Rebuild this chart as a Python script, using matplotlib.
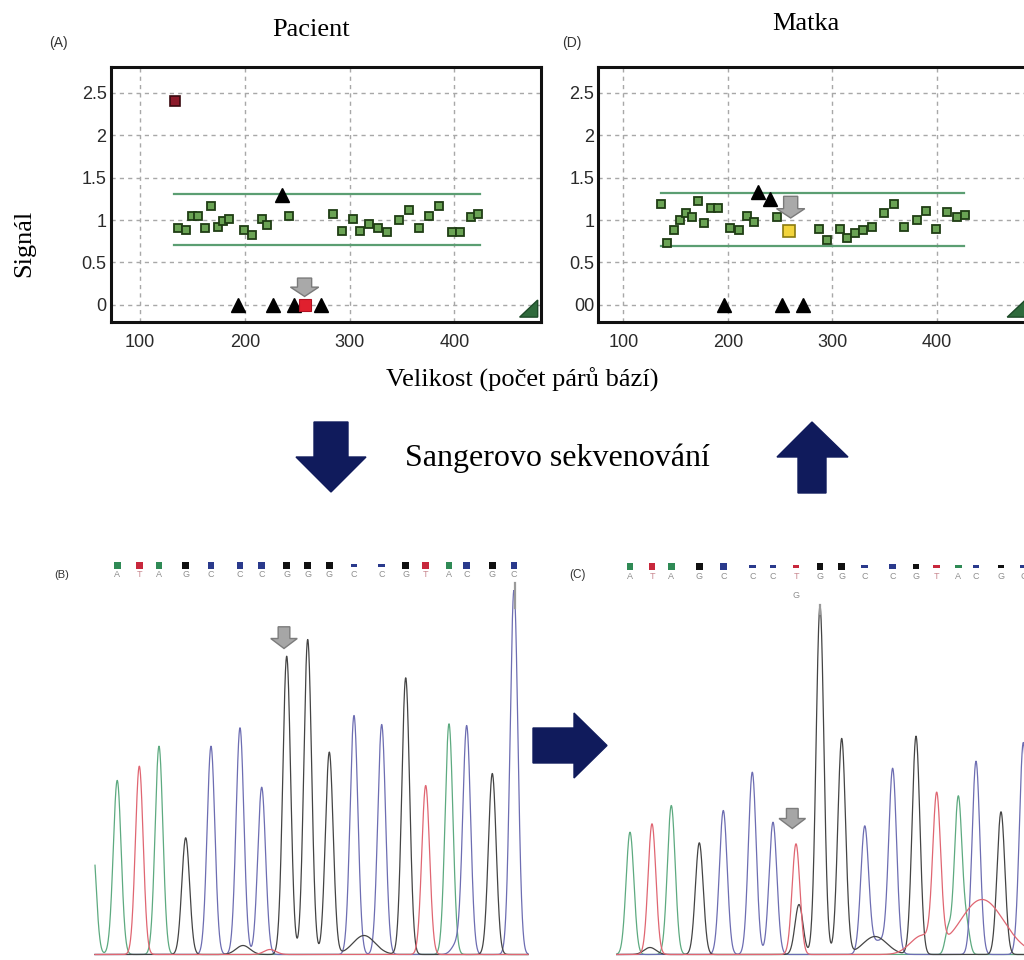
import numpy as np
import matplotlib
matplotlib.use("Agg")
import matplotlib.pyplot as plt
from matplotlib.patches import Polygon, FancyArrow, Rectangle
from matplotlib.transforms import blended_transform_factory

plt.rcParams["font.family"] = ["Liberation Sans", "DejaVu Sans"]
SERIF = ["Liberation Serif", "DejaVu Serif"]

W, H = 1024, 960

# ---------------- Panel A (Pacient) : fragment size vs signal ----------------
a_size = [136.6, 143.9, 149.3, 155.7, 162.0, 167.4, 174.1, 179.5, 185.2, 199.2,
          207.2, 216.1, 221.5, 242.5, 283.9, 292.4, 303.5, 309.9, 318.8, 326.8,
          335.4, 347.1, 357.0, 366.2, 376.1, 385.6, 397.4, 405.3, 415.5, 422.8]
a_signal = [0.905, 0.885, 1.043, 1.043, 0.905, 1.169, 0.913, 0.992, 1.015, 0.885,
            0.826, 1.012, 0.937, 1.043, 1.074, 0.866, 1.012, 0.874, 0.952, 0.905,
            0.854, 1.003, 1.114, 0.905, 1.043, 1.169, 0.854, 0.854, 1.035, 1.074]
a_outlier_size, a_outlier_signal = [133], [2.40]
a_deleted_size, a_deleted_signal = [257], [0.0]
a_tri_size = [193.2, 226.6, 247.0, 272.4, 235.0]
a_tri_signal = [0.0, 0.0, 0.0, 0.0, 1.30]
a_limits = [0.70, 1.31]
a_limit_span = [132, 424]
a_arrow = [257, 0.315, 0.098]

# ---------------- Panel D (Matka) ----------------
d_size = [136.1, 142.1, 148.5, 154.3, 159.7, 165.4, 171.8, 177.5, 183.6, 190.9,
          202.1, 211.0, 218.7, 225.4, 246.8, 287.3, 294.6, 307.4, 314.4, 321.7,
          329.1, 337.7, 349.8, 359.4, 368.9, 380.8, 389.7, 399.3, 409.5, 419.0, 427.0]
d_signal = [1.19, 0.73, 0.885, 1.00, 1.08, 1.04, 1.23, 0.97, 1.14, 1.14,
            0.905, 0.885, 1.05, 0.975, 1.035, 0.897, 0.76, 0.897, 0.787, 0.846,
            0.885, 0.913, 1.08, 1.19, 0.913, 1.00, 1.11, 0.897, 1.09, 1.04, 1.06]
d_yellow_size, d_yellow_signal = [258.9], [0.874]
d_tri_size = [196.4, 251.6, 271.7, 229.2, 240.4]
d_tri_signal = [0.0, 0.0, 0.0, 1.33, 1.25]
d_limits = [0.69, 1.32]
d_limit_span = [136, 426]
d_arrow = [260.2, 1.28, 1.024]

x_ticks = [100, 200, 300, 400]
y_ticks = [0, 0.5, 1, 1.5, 2, 2.5]
a_ylabels = ["0", "0.5", "1", "1.5", "2", "2.5"]
d_ylabels = ["00", "0.5", "1", "1.5", "2", "2.5"]

# ---------------- Chromatograms ----------------
base_color = {"A": "#2f8a55", "T": "#c8283c", "G": "#111111", "C": "#2a3a8c"}
trace_color = {"A": "#5daa80", "T": "#e06672", "G": "#444444", "C": "#6d6db2"}

b_bases = list("ATAGCCCGGGCCGTACGC")
b_peak_pos = [37.3, 59.3, 79.0, 105.7, 131.0, 160.0, 181.7, 206.7, 227.7, 249.3,
              274.0, 301.7, 325.7, 345.7, 369.0, 386.7, 412.3, 434.0]
b_peak_height = [170.7, 188.3, 208.3, 116.7, 208.3, 226.7, 167.3, 298.3, 315.0, 202.3,
                 239.0, 230.0, 276.7, 169.0, 230.7, 227.3, 181.0, 365.0]
b_quality = [1, 1, 1, 1, 1, 1, 1, 1, 1, 1, 0.5, 0.5, 1, 1, 1, 1, 1, 1]
# extra (off-call) signal: base, position, height, width
b_extra_base = ["A", "G", "C", "G", "A", "T"]
b_extra_pos = [12.0, 284.0, 377.0, 163.0, 33.0, 190.0]
b_extra_height = [120.0, 19.0, 11.0, 9.0, 6.0, 5.0]
b_extra_width = [3.9, 11.0, 5.0, 7.0, 4.0, 6.0]

c_bases = list("ATAGCCCTGGCCGTACGC")
c_second = {7: "G"}
c_peak_pos = [40.0, 62.0, 81.3, 109.3, 133.3, 162.3, 183.0, 206.0, 230.0, 251.7,
              274.7, 302.7, 326.0, 346.7, 368.3, 386.0, 411.0, 433.3]
c_peak_height = [122.3, 130.7, 149.0, 111.7, 144.0, 182.3, 132.3, 110.7, 348.3, 215.7,
                 124.3, 180.0, 218.3, 147.3, 158.3, 193.3, 142.7, 212.0]
c_quality = [1, 1, 1, 1, 1, 0.5, 0.5, 0.5, 1, 1, 0.4, 0.6, 0.6, 0.5, 0.4, 0.3, 0.3, 0.3]
c_extra_base = ["G", "T", "G", "C", "T", "A", "A", "G"]
c_extra_pos = [209.0, 392.0, 285.0, 290.0, 332.0, 358.0, 377.0, 60.0]
c_extra_height = [50.0, 55.0, 18.0, 14.0, 18.0, 24.0, 24.0, 7.0]
c_extra_width = [4.0, 22.0, 12.0, 10.0, 12.0, 3.0, 3.0, 6.0]

fig = plt.figure(figsize=(W / 100, H / 100), dpi=100)


def px_box(l, t, r, b):
    return [l / W, 1 - b / H, (r - l) / W, (b - t) / H]


def size_panel(box, xlim, sizes, signal, tri_s, tri_v, limits, span, arrow, ylabels):
    ax = fig.add_axes(px_box(*box))
    ax.set_xlim(*xlim)
    ax.set_ylim(-0.2, 2.81)
    ax.set_xticks(x_ticks)
    ax.set_yticks(y_ticks)
    ax.set_yticklabels(ylabels)
    ax.grid(True, color="#a8a8a8", linestyle=(0, (3, 3)), linewidth=1.0)
    ax.set_axisbelow(True)
    ax.tick_params(axis="both", length=0, labelsize=13, colors="#2a2a2a")
    ax.tick_params(axis="x", pad=9)
    ax.tick_params(axis="y", pad=3)
    for s in ax.spines.values():
        s.set_linewidth(2.2)
        s.set_color("#111111")
    for lv in limits:
        ax.plot(span, [lv, lv], color="#5b9e72", lw=1.6, zorder=2)
    ax.plot(sizes, signal, linestyle="none", marker="s", ms=6.0, mfc="#6aa354",
            mec="#1f3d14", mew=1.3, zorder=3)
    ax.plot(tri_s, tri_v, linestyle="none", marker="^", ms=10, mfc="black",
            mec="black", zorder=4)
    x0, ytop, ytip = arrow
    ax.add_patch(FancyArrow(x0, ytop, 0, ytip - ytop, width=13.5, head_width=27,
                            head_length=0.11, length_includes_head=True,
                            fc="#a9a9a9", ec="#7a7a7a", lw=1, zorder=5))
    ax.add_patch(Polygon([[0.951, 0.018], [0.993, 0.085], [0.993, 0.018]],
                         closed=True, transform=ax.transAxes, fc="#2f6a3c",
                         ec="#1d4a28", zorder=6))
    return ax


axA = size_panel((110.7, 66.7, 540.7, 321.7), (72, 482.3), a_size, a_signal,
                 a_tri_size, a_tri_signal, a_limits, a_limit_span, a_arrow, a_ylabels)
axA.plot(a_outlier_size, a_outlier_signal, linestyle="none", marker="s", ms=6.5,
         mfc="#8c1a2a", mec="#3a0a10", mew=1.2, zorder=4)
axA.plot(a_deleted_size, a_deleted_signal, linestyle="none", marker="s", ms=8,
         mfc="#e0202e", mec="#b01020", mew=0.8, zorder=4)

axD = size_panel((598.3, 66.7, 1028.3, 321.7), (76.1, 487.6), d_size, d_signal,
                 d_tri_size, d_tri_signal, d_limits, d_limit_span, d_arrow, d_ylabels)
axD.plot(d_yellow_size, d_yellow_signal, linestyle="none", marker="s", ms=8,
         mfc="#f3d43c", mec="#8a7a10", mew=1.2, zorder=4)


def gauss_sum(x, pos, hgt, wid):
    y = np.zeros_like(x)
    for p, h, w in zip(pos, hgt, wid):
        y += h * np.exp(-0.5 * ((x - p) / w) ** 2)
    return y


def chromatogram(box, xlim, xr, bases, pos, hgt, quality, ex_b, ex_p, ex_h, ex_w,
                 sq_y, let_y, arrow, second=None, cursor=None):
    ax = fig.add_axes(px_box(*box))
    ax.set_xlim(*xlim)
    ax.set_ylim(-1.5, 365.5)
    ax.axis("off")
    x = np.linspace(xr[0], xr[1], 3000)
    for b in ["A", "C", "G", "T"]:
        p = [pp for pp, bb in zip(pos, bases) if bb == b] + \
            [pp for pp, bb in zip(ex_p, ex_b) if bb == b]
        h = [hh for hh, bb in zip(hgt, bases) if bb == b] + \
            [hh for hh, bb in zip(ex_h, ex_b) if bb == b]
        w = [3.9 for bb in bases if bb == b] + \
            [ww for ww, bb in zip(ex_w, ex_b) if bb == b]
        ax.plot(x, gauss_sum(x, p, h, w) + 1.0, color=trace_color[b], lw=0.9)
    tr = blended_transform_factory(ax.transData, ax.transAxes)
    for i, (pp, b, q) in enumerate(zip(pos, bases, quality)):
        hh = 0.019 * q
        ax.add_patch(Rectangle((pp - 3.3, sq_y - hh / 2), 6.6, hh, transform=tr,
                               fc=base_color[b], ec="none", clip_on=False))
        col = "#c98890" if b == "T" else "#8e8e8e"
        ax.text(pp, let_y, b, transform=tr, ha="center", va="center", fontsize=6.5,
                color=col, clip_on=False)
        if second and i in second:
            ax.text(pp, let_y - 0.054, second[i], transform=tr, ha="center",
                    va="center", fontsize=6.5, color="#8e8e8e")
    xa, ytop, ytip = arrow
    ax.add_patch(FancyArrow(xa, ytop, 0, ytip - ytop, width=11.7, head_width=26.5,
                            head_length=10, length_includes_head=True,
                            fc="#a6a6a6", ec="#7c7c7c", lw=1, clip_on=False,
                            zorder=5))
    if cursor:
        cx, cy0, cy1 = cursor
        ax.plot([cx, cx], [cy0, cy1], transform=tr, color="#9a9a9a", lw=1.6,
                clip_on=False)
    return ax


axB = chromatogram((80, 590, 540, 957), (0, 460), (15, 448), b_bases, b_peak_pos,
                   b_peak_height, b_quality, b_extra_base, b_extra_pos,
                   b_extra_height, b_extra_width, 1.067, 1.041,
                   (204, 328.7, 307), cursor=(435, 1.019, 0.951))
axC = chromatogram((590, 590, 1034, 957), (0, 444), (26.7, 444), c_bases, c_peak_pos,
                   c_peak_height, c_quality, c_extra_base, c_extra_pos,
                   c_extra_height, c_extra_width, 1.064, 1.038,
                   (202.3, 147, 127), second=c_second, cursor=(230, 0.959, 0.935))

# ---------------- overlay: labels and navigation arrows ----------------
ov = fig.add_axes([0, 0, 1, 1], zorder=10)
ov.set_xlim(0, W)
ov.set_ylim(H, 0)
ov.axis("off")
ov.patch.set_alpha(0)

navy = "#101b5c"
ov.add_patch(Polygon([(314, 422), (348, 422), (348, 457), (366, 457), (331, 492),
                      (296, 457), (314, 457)], closed=True, fc=navy, ec=navy))
ov.add_patch(Polygon([(798, 493), (826, 493), (826, 457), (848, 457), (812, 422),
                      (777, 457), (798, 457)], closed=True, fc=navy, ec=navy))
ov.add_patch(Polygon([(533, 728), (574, 728), (574, 713), (607, 745.5), (574, 778),
                      (574, 763), (533, 763)], closed=True, fc=navy, ec=navy))

ov.text(58, 43, "(A)", fontsize=10, ha="center", va="center", color="#333333")
ov.text(572, 43, "(D)", fontsize=10, ha="center", va="center", color="#333333")
ov.text(62, 575, "(B)", fontsize=8, ha="center", va="center", color="#333333")
ov.text(577, 575, "(C)", fontsize=8.5, ha="center", va="center", color="#333333")
ov.text(311, 30, "Pacient", fontsize=19, family=SERIF, ha="center", va="center")
ov.text(806, 24, "Matka", fontsize=19, family=SERIF, ha="center", va="center")
ov.text(24, 243, "Signál", fontsize=19, family=SERIF, rotation=90, ha="center",
        va="center")
ov.text(522, 380, "Velikost (počet párů bází)", fontsize=19, family=SERIF,
        ha="center", va="center")
ov.text(557, 458, "Sangerovo sekvenování", fontsize=23, family=SERIF,
        ha="center", va="center")

fig.savefig("out.png", dpi=100)
